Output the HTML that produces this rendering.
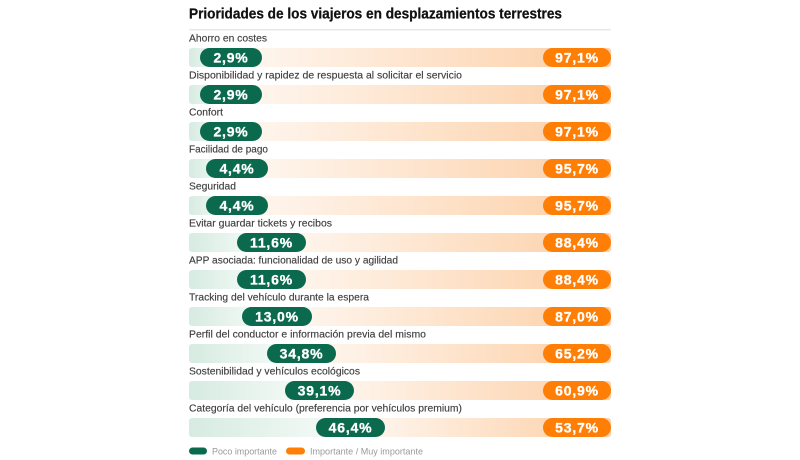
<!DOCTYPE html>
<html>
<head>
<meta charset="utf-8">
<style>
html,body{margin:0;padding:0;background:#fff;}
svg{display:block;}
.t{font-family:"Liberation Sans",sans-serif;font-weight:bold;font-size:14.5px;fill:#111;stroke:#111;stroke-width:0.25px;}
.l{font-family:"Liberation Sans",sans-serif;font-size:10.5px;fill:#3f3f3f;stroke:#3f3f3f;stroke-width:0.15px;}
.p{font-family:"Liberation Sans",sans-serif;font-weight:bold;font-size:14px;fill:#fff;stroke:#fff;stroke-width:0.3px;letter-spacing:0.8px;}
.g{font-family:"Liberation Sans",sans-serif;font-size:9.5px;fill:#9a9a9a;}
</style>
</head>
<body>
<svg width="800" height="460" viewBox="0 0 800 460" xmlns="http://www.w3.org/2000/svg">
<defs>
<linearGradient id="mint" x1="0" x2="1" y1="0" y2="0">
<stop offset="0" stop-color="#d6ebe1"/>
<stop offset="1" stop-color="#f4faf7"/>
</linearGradient>
<linearGradient id="peach" x1="0" x2="1" y1="0" y2="0">
<stop offset="0" stop-color="#fff8f2"/>
<stop offset="1" stop-color="#fccfa6"/>
</linearGradient>
</defs>
<rect width="800" height="460" fill="#fff"/>
<text class="t" x="189" y="18.5" textLength="373" lengthAdjust="spacingAndGlyphs">Prioridades de los viajeros en desplazamientos terrestres</text>
<rect x="189" y="29" width="422" height="1.5" fill="#e8e8e8"/>

<!-- row 1 -->
<text class="l" x="189" y="41.5" textLength="78" lengthAdjust="spacingAndGlyphs">Ahorro en costes</text>
<rect x="189" y="48" width="30" height="19" rx="3" fill="url(#mint)"/>
<rect x="231" y="48" width="380" height="19" rx="3" fill="url(#peach)"/>
<rect x="200" y="48" width="62" height="19" rx="9.5" fill="#0b6a4e"/>
<text class="p" x="231" y="62.5" text-anchor="middle">2,9%</text>
<rect x="543" y="48" width="68" height="19" rx="9.5" fill="#ff7e05"/>
<text class="p" x="577" y="62.5" text-anchor="middle">97,1%</text>

<!-- row 2 -->
<text class="l" x="189" y="78.5" textLength="273" lengthAdjust="spacingAndGlyphs">Disponibilidad y rapidez de respuesta al solicitar el servicio</text>
<rect x="189" y="85" width="30" height="19" rx="3" fill="url(#mint)"/>
<rect x="231" y="85" width="380" height="19" rx="3" fill="url(#peach)"/>
<rect x="200" y="85" width="62" height="19" rx="9.5" fill="#0b6a4e"/>
<text class="p" x="231" y="99.5" text-anchor="middle">2,9%</text>
<rect x="543" y="85" width="68" height="19" rx="9.5" fill="#ff7e05"/>
<text class="p" x="577" y="99.5" text-anchor="middle">97,1%</text>

<!-- row 3 -->
<text class="l" x="189" y="115.5" textLength="34" lengthAdjust="spacingAndGlyphs">Confort</text>
<rect x="189" y="122" width="30" height="19" rx="3" fill="url(#mint)"/>
<rect x="231" y="122" width="380" height="19" rx="3" fill="url(#peach)"/>
<rect x="200" y="122" width="62" height="19" rx="9.5" fill="#0b6a4e"/>
<text class="p" x="231" y="136.5" text-anchor="middle">2,9%</text>
<rect x="543" y="122" width="68" height="19" rx="9.5" fill="#ff7e05"/>
<text class="p" x="577" y="136.5" text-anchor="middle">97,1%</text>

<!-- row 4 -->
<text class="l" x="189" y="152.5" textLength="79" lengthAdjust="spacingAndGlyphs">Facilidad de pago</text>
<rect x="189" y="159" width="35" height="19" rx="3" fill="url(#mint)"/>
<rect x="237" y="159" width="374" height="19" rx="3" fill="url(#peach)"/>
<rect x="206" y="159" width="62" height="19" rx="9.5" fill="#0b6a4e"/>
<text class="p" x="237" y="173.5" text-anchor="middle">4,4%</text>
<rect x="543" y="159" width="68" height="19" rx="9.5" fill="#ff7e05"/>
<text class="p" x="577" y="173.5" text-anchor="middle">95,7%</text>

<!-- row 5 -->
<text class="l" x="189" y="189.5" textLength="47" lengthAdjust="spacingAndGlyphs">Seguridad</text>
<rect x="189" y="196" width="35" height="19" rx="3" fill="url(#mint)"/>
<rect x="237" y="196" width="374" height="19" rx="3" fill="url(#peach)"/>
<rect x="206" y="196" width="62" height="19" rx="9.5" fill="#0b6a4e"/>
<text class="p" x="237" y="210.5" text-anchor="middle">4,4%</text>
<rect x="543" y="196" width="68" height="19" rx="9.5" fill="#ff7e05"/>
<text class="p" x="577" y="210.5" text-anchor="middle">95,7%</text>

<!-- row 6 -->
<text class="l" x="189" y="226.5" textLength="143" lengthAdjust="spacingAndGlyphs">Evitar guardar tickets y recibos</text>
<rect x="189" y="233" width="65" height="19" rx="3" fill="url(#mint)"/>
<rect x="271" y="233" width="340" height="19" rx="3" fill="url(#peach)"/>
<rect x="237" y="233" width="69" height="19" rx="9.5" fill="#0b6a4e"/>
<text class="p" x="271.5" y="247.5" text-anchor="middle">11,6%</text>
<rect x="543" y="233" width="68" height="19" rx="9.5" fill="#ff7e05"/>
<text class="p" x="577" y="247.5" text-anchor="middle">88,4%</text>

<!-- row 7 -->
<text class="l" x="189" y="263.5" textLength="209" lengthAdjust="spacingAndGlyphs">APP asociada: funcionalidad de uso y agilidad</text>
<rect x="189" y="270" width="65" height="19" rx="3" fill="url(#mint)"/>
<rect x="271" y="270" width="340" height="19" rx="3" fill="url(#peach)"/>
<rect x="237" y="270" width="69" height="19" rx="9.5" fill="#0b6a4e"/>
<text class="p" x="271.5" y="284.5" text-anchor="middle">11,6%</text>
<rect x="543" y="270" width="68" height="19" rx="9.5" fill="#ff7e05"/>
<text class="p" x="577" y="284.5" text-anchor="middle">88,4%</text>

<!-- row 8 -->
<text class="l" x="189" y="300.5" textLength="180" lengthAdjust="spacingAndGlyphs">Tracking del vehículo durante la espera</text>
<rect x="189" y="307" width="70" height="19" rx="3" fill="url(#mint)"/>
<rect x="277" y="307" width="334" height="19" rx="3" fill="url(#peach)"/>
<rect x="242" y="307" width="70" height="19" rx="9.5" fill="#0b6a4e"/>
<text class="p" x="277" y="321.5" text-anchor="middle">13,0%</text>
<rect x="543" y="307" width="68" height="19" rx="9.5" fill="#ff7e05"/>
<text class="p" x="577" y="321.5" text-anchor="middle">87,0%</text>

<!-- row 9 -->
<text class="l" x="189" y="337.5" textLength="237" lengthAdjust="spacingAndGlyphs">Perfil del conductor e información previa del mismo</text>
<rect x="189" y="344" width="95" height="19" rx="3" fill="url(#mint)"/>
<rect x="301" y="344" width="310" height="19" rx="3" fill="url(#peach)"/>
<rect x="267" y="344" width="69" height="19" rx="9.5" fill="#0b6a4e"/>
<text class="p" x="301.5" y="358.5" text-anchor="middle">34,8%</text>
<rect x="543" y="344" width="68" height="19" rx="9.5" fill="#ff7e05"/>
<text class="p" x="577" y="358.5" text-anchor="middle">65,2%</text>

<!-- row 10 -->
<text class="l" x="189" y="374.5" textLength="171" lengthAdjust="spacingAndGlyphs">Sostenibilidad y vehículos ecológicos</text>
<rect x="189" y="381" width="112" height="19" rx="3" fill="url(#mint)"/>
<rect x="319" y="381" width="292" height="19" rx="3" fill="url(#peach)"/>
<rect x="285" y="381" width="69" height="19" rx="9.5" fill="#0b6a4e"/>
<text class="p" x="319.5" y="395.5" text-anchor="middle">39,1%</text>
<rect x="543" y="381" width="68" height="19" rx="9.5" fill="#ff7e05"/>
<text class="p" x="577" y="395.5" text-anchor="middle">60,9%</text>

<!-- row 11 -->
<text class="l" x="189" y="411.5" textLength="273" lengthAdjust="spacingAndGlyphs">Categoría del vehículo (preferencia por vehículos premium)</text>
<rect x="189" y="418" width="143" height="19" rx="3" fill="url(#mint)"/>
<rect x="350" y="418" width="261" height="19" rx="3" fill="url(#peach)"/>
<rect x="316" y="418" width="69" height="19" rx="9.5" fill="#0b6a4e"/>
<text class="p" x="350.5" y="432.5" text-anchor="middle">46,4%</text>
<rect x="543" y="418" width="68" height="19" rx="9.5" fill="#ff7e05"/>
<text class="p" x="577" y="432.5" text-anchor="middle">53,7%</text>

<!-- legend -->
<rect x="189" y="447.5" width="18" height="7" rx="3.5" fill="#0b6a4e"/>
<text class="g" x="212" y="454.5" textLength="65" lengthAdjust="spacingAndGlyphs">Poco importante</text>
<rect x="286" y="447.5" width="19" height="7" rx="3.5" fill="#ff7e05"/>
<text class="g" x="310" y="454.5" textLength="113" lengthAdjust="spacingAndGlyphs">Importante / Muy importante</text>
</svg>
</body>
</html>
